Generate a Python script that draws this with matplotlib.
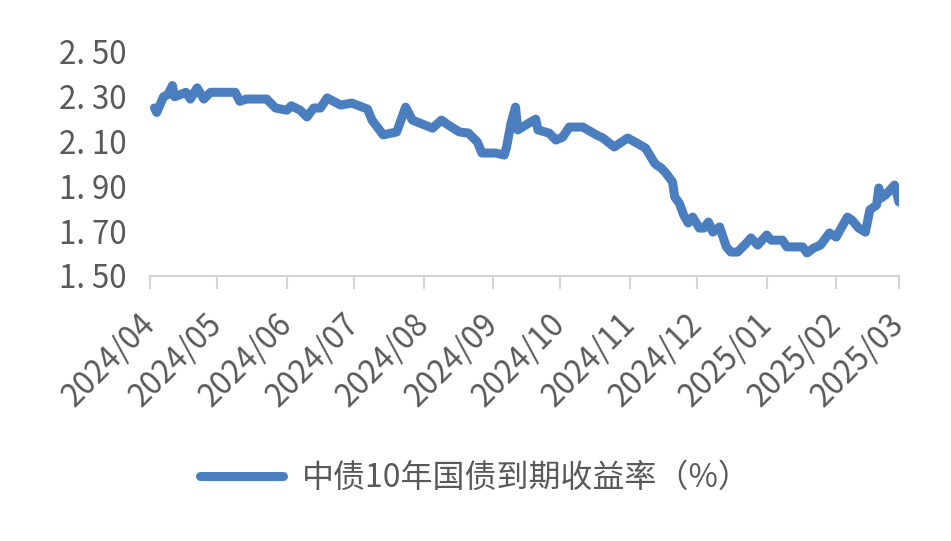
import matplotlib
matplotlib.use("Agg")
import matplotlib.pyplot as plt
import matplotlib.dates as mdates
import numpy as np
import pandas as pd

plt.rcParams['font.family'] = ['Noto Sans CJK SC', 'DejaVu Sans']

# readings
dates = [
    "2024-04-03", "2024-04-04", "2024-04-07", "2024-04-09", "2024-04-11", "2024-04-12",
    "2024-04-17", "2024-04-19", "2024-04-22", "2024-04-25", "2024-04-28", "2024-05-05",
    "2024-05-09", "2024-05-11", "2024-05-14", "2024-05-23", "2024-05-27", "2024-06-01",
    "2024-06-03", "2024-06-07", "2024-06-10", "2024-06-13", "2024-06-16", "2024-06-19",
    "2024-06-25", "2024-06-30", "2024-07-07", "2024-07-09", "2024-07-14", "2024-07-20",
    "2024-07-24", "2024-07-27", "2024-08-05", "2024-08-09", "2024-08-12", "2024-08-17",
    "2024-08-21", "2024-08-25", "2024-08-27", "2024-09-02", "2024-09-06", "2024-09-07",
    "2024-09-09", "2024-09-11", "2024-09-12", "2024-09-17", "2024-09-20", "2024-09-21",
    "2024-09-26", "2024-09-29", "2024-10-02", "2024-10-05", "2024-10-11", "2024-10-17",
    "2024-10-20", "2024-10-25", "2024-10-31", "2024-11-04", "2024-11-08", "2024-11-09",
    "2024-11-12", "2024-11-13", "2024-11-15", "2024-11-17", "2024-11-20", "2024-11-21",
    "2024-11-23", "2024-11-25", "2024-11-27", "2024-11-29", "2024-12-02", "2024-12-04",
    "2024-12-06", "2024-12-08", "2024-12-11", "2024-12-14", "2024-12-16", "2024-12-19",
    "2024-12-23", "2024-12-25", "2024-12-28", "2025-01-01", "2025-01-03", "2025-01-08",
    "2025-01-10", "2025-01-17", "2025-01-19", "2025-01-22", "2025-01-25", "2025-01-29",
    "2025-02-01", "2025-02-04", "2025-02-06", "2025-02-08", "2025-02-11", "2025-02-14",
    "2025-02-16", "2025-02-19", "2025-02-20", "2025-02-21", "2025-02-23", "2025-02-27",
    "2025-03-01",
]
yields = [
    2.25, 2.23, 2.30, 2.31, 2.35, 2.30,
    2.32, 2.29, 2.34, 2.29, 2.32, 2.32,
    2.32, 2.28, 2.29, 2.29, 2.25, 2.24,
    2.26, 2.24, 2.21, 2.25, 2.25, 2.295,
    2.263, 2.272, 2.245, 2.196, 2.13, 2.143,
    2.254, 2.196, 2.16, 2.196, 2.174, 2.143,
    2.138, 2.098, 2.049, 2.049, 2.04, 2.076,
    2.183, 2.254, 2.152, 2.183, 2.20, 2.152,
    2.138, 2.107, 2.12, 2.165, 2.165, 2.13,
    2.116, 2.076, 2.116, 2.094, 2.071, 2.054,
    2.004, 1.995, 1.982, 1.96, 1.92, 1.853,
    1.826, 1.772, 1.737, 1.763, 1.714, 1.714,
    1.741, 1.696, 1.719, 1.63, 1.607, 1.607,
    1.647, 1.67, 1.638, 1.683, 1.66, 1.66,
    1.63, 1.63, 1.603, 1.625, 1.638, 1.692,
    1.674, 1.728, 1.763, 1.75, 1.714, 1.696,
    1.795, 1.817, 1.893, 1.848, 1.862, 1.906,
    1.83,
]
y_ticks = [1.50, 1.70, 1.90, 2.10, 2.30, 2.50]
series_name = "中债10年国债到期收益率（%）"

x = pd.to_datetime(dates)

fig = plt.figure(figsize=(9.51, 5.41), dpi=100)
ax = fig.add_axes([150 / 951, 1 - 276 / 541, (899 - 150) / 951, (276 - 52) / 541])

line_color = "#4a7ebf"
text_color = "#595959"

ax.plot(x, yields, color=line_color, lw=6.5, solid_joinstyle='round',
        solid_capstyle='round', label=series_name)

ax.set_ylim(1.50, 2.50)
ax.set_yticks(y_ticks)
ax.set_yticklabels([f"{v:.2f}".replace('.', '. ') for v in y_ticks])
ax.set_xlim(pd.Timestamp("2024-04-01"), pd.Timestamp("2025-03-01"))
ax.xaxis.set_major_locator(mdates.MonthLocator())
ax.xaxis.set_major_formatter(mdates.DateFormatter("%Y/%m"))

for s in ['top', 'right', 'left']:
    ax.spines[s].set_visible(False)
ax.spines['bottom'].set_color("#d4d4d4")
ax.spines['bottom'].set_linewidth(1.5)

ax.tick_params(axis='y', length=0, pad=17, labelsize=22.5, labelcolor=text_color)
ax.tick_params(axis='x', length=9, width=1.5, color="#d4d4d4", pad=22,
               labelsize=22.5, labelcolor=text_color)
for lab in ax.get_xticklabels():
    lab.set_rotation(45)
    lab.set_ha('right')
    lab.set_va('center')
    lab.set_rotation_mode('anchor')

fig.legend(loc='center', bbox_to_anchor=(0.5, 0.117), frameon=False,
           fontsize=23, labelcolor=text_color, handlelength=2.6, handletextpad=0.6)

fig.savefig("out.png", dpi=100)
